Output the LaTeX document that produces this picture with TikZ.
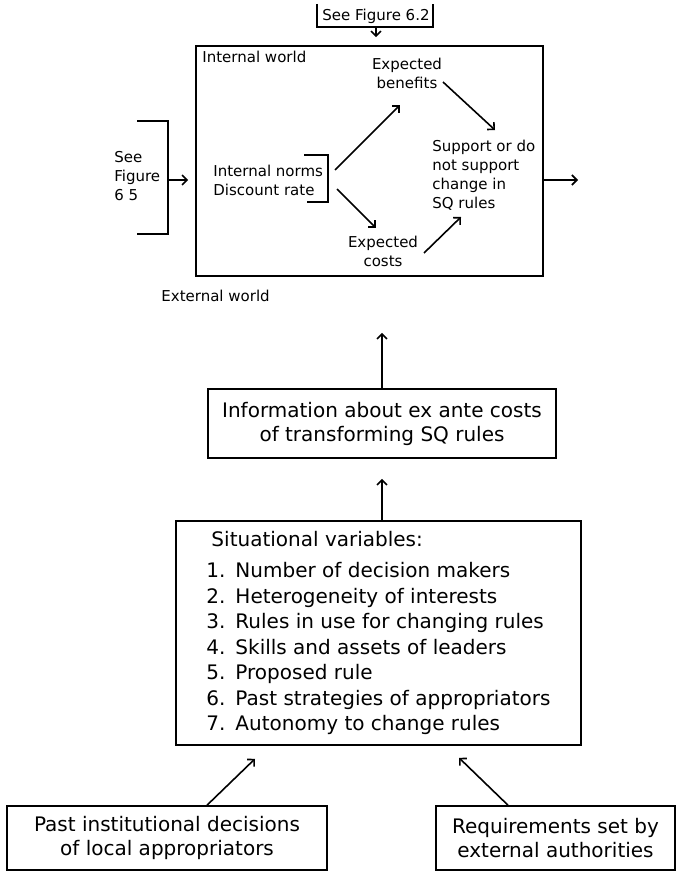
\documentclass[tikz,border=0pt]{standalone}
\usepackage{fontspec}
\setmainfont{DejaVu Sans}
\usetikzlibrary{arrows.meta,positioning}

\tikzset{
	smalltext/.style={font=\fontsize{7.5}{9.5}\selectfont,inner sep=0pt},
	infobox/.style={draw,thick,align=center,font=\fontsize{10}{12}\selectfont},
	flow/.style={thick,-{Straight Barb[length=2.5pt,width=5pt]}}
}

\begin{document}
\begin{tikzpicture}[x=0.5pt,y=-0.5pt]
	\useasboundingbox (0,0) rectangle (677,872);
	% internal and external world
	\node[draw,thick,minimum width=173.5pt,minimum height=115pt,inner sep=0pt] (world) at (369.5,161) {};
	\begin{scope}[every node/.style={smalltext}]
		\node (fig62) at (376,16) {See Figure 6.2};
		\node[anchor=west] (inner) at (202,57) {Internal world};
		\node[anchor=west] (outer) at (161,296) {External world};
		\node[align=center] (benef) at (407,73) {Expected\\benefits};
		\node[align=center] (costs) at (383,251) {Expected\\costs};
		\node[align=left,anchor=west] (norms) at (213,180.5) {Internal norms\\Discount rate};
		\node[align=left,anchor=west] (support) at (432,175.5) {Support or do\\not support\\change in\\SQ rules};
		\node[align=left,anchor=west] (fig65) at (114,176.5) {See\\Figure\\6 5};
	\end{scope}
	\draw[thick] (317,4) |- (433,27) -- (433,4);
	\draw[thick] (137,121) -| (168,234) -- (137,234);
	\draw[thick] (304,155) -| (328,202) -- (307,202);
	\coordinate (fig65br) at (168,180);
	\coordinate (normsbr) at (328,178.5);
	\coordinate (decision) at (578,180);
	\begin{scope}[every path/.style={flow}]
		\draw[shorten <=2pt,shorten >=4pt] (fig62.south) -- (fig62.south |- world.north);
		\draw[shorten >=3.5pt] (fig65br) -- (fig65br -| world.west);
		\draw ([shift={(7,-8.5)}]normsbr) -- ([shift={(-7,32)}]benef.center);
		\draw ([shift={(9,10.5)}]normsbr) -- ([shift={(-7,-23)}]costs.center);
		\draw ([shift={(36,9)}]benef.center) -- ([shift={(63,-45.5)}]support.west);
		\draw ([shift={(41,2)}]costs.center) -- ([shift={(29,41.5)}]support.west);
		\draw ([shift={(0,19)}]world.east) -- (decision);
	\end{scope}
	% variables and costs
	\node[infobox,minimum width=174pt,minimum height=34.5pt] (info) at (382,423.5) {Information about ex ante costs\\of transforming SQ rules};
	\node[draw,thick,minimum width=202.5pt,minimum height=112pt,align=left,font=\fontsize{10}{12.75}\selectfont] (situ) at (378.5,633) {%
		\hspace{2.5pt}Situational variables:\\[3pt]
		\makebox[14.5pt][l]{1.}Number of decision makers\\
		\makebox[14.5pt][l]{2.}Heterogeneity of interests\\
		\makebox[14.5pt][l]{3.}Rules in use for changing rules\\
		\makebox[14.5pt][l]{4.}Skills and assets of leaders\\
		\makebox[14.5pt][l]{5.}Proposed rule\\
		\makebox[14.5pt][l]{6.}Past strategies of appropriators\\
		\makebox[14.5pt][l]{7.}Autonomy to change rules};
	\node[infobox,minimum width=160pt,minimum height=32pt] (past) at (167,838) {Past institutional decisions\\of local appropriators};
	\node[infobox,minimum width=119.5pt,minimum height=32pt] (req) at (555.5,838) {Requirements set by\\external authorities};
	\begin{scope}[every path/.style={flow}]
		\draw[shorten >=28pt] (info.north) -- (info.north |- world.south);
		\draw[shorten >=10pt] (situ.north -| info.south) -- (info.south);
		\draw ([shift={(40,0)}]past.north) -- ([shift={(-123.5,13)}]situ.south);
		\draw ([shift={(-47.5,0)}]req.north) -- ([shift={(80.5,12)}]situ.south);
	\end{scope}
\end{tikzpicture}
\end{document}
